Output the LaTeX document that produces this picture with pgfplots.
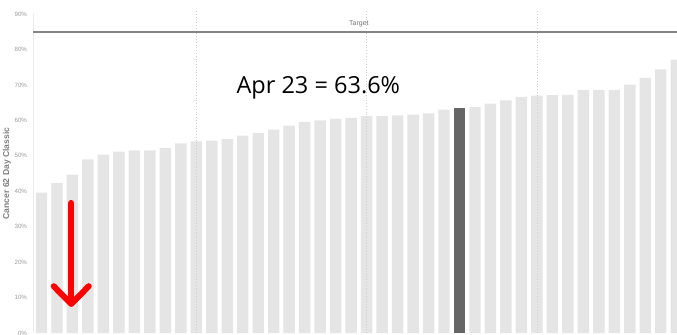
\documentclass[border=0pt]{standalone}
\usepackage{pgfplots}
\pgfplotsset{compat=1.18}
\usepackage{fontspec}
\setmainfont{Liberation Sans}
\newfontfamily\annfont{Open Sans}
\definecolor{barlight}{HTML}{E5E5E5}
\definecolor{bardark}{HTML}{666666}
\definecolor{targetgray}{HTML}{858585}
\definecolor{ticktext}{HTML}{9A9A9A}
\definecolor{gridgray}{HTML}{CFCFCF}
\definecolor{labelgray}{HTML}{7F7F7F}
\begin{document}
\begin{tikzpicture}
\begin{axis}[
  scale only axis, width=644bp, height=319bp,
  xmin=0.45, xmax=42.05, ymin=0, ymax=90,
  clip=false,
  axis x line=none,
  axis y line*=left,
  y axis line style={draw=black!8, line width=0.6bp},
  ytick={0,10,...,90},
  yticklabel={\pgfmathprintnumber{\tick}\%},
  /pgf/number format/assume math mode=true,
  major tick length=0pt,
  yticklabel style={font=\fontsize{6.2}{7}\selectfont, text=ticktext, xshift=-2.5bp},
  ylabel={Cancer 62 Day Classic},
  ylabel style={at={(axis description cs:0,0.5)}, yshift=26bp, anchor=center,
    font=\bfseries\fontsize{8.6}{9}\selectfont, text=labelgray},
]
% light bars
\addplot[ybar, bar width=0.74, bar shift=0pt, fill=barlight, draw=none] coordinates {
(1,39.6) (2,42.3) (3,44.7) (4,49.0) (5,50.3) (6,51.2) (7,51.5) (8,51.5) (9,52.2) (10,53.5)
(11,54.1) (12,54.3) (13,54.7) (14,55.7) (15,56.4) (16,57.4) (17,58.5) (18,59.6) (19,60.0) (20,60.4)
(21,60.7) (22,61.2) (23,61.2) (24,61.4) (25,61.6) (26,62.0) (27,63.0)
(29,63.8) (30,64.7) (31,65.6) (32,66.6) (33,67.0) (34,67.1) (35,67.2) (36,68.5) (37,68.6) (38,68.6)
(39,70.1) (40,72.0) (41,74.4) (42,77.1)
};
% highlighted bar
\addplot[ybar, bar width=0.74, bar shift=0pt, fill=bardark, draw=none] coordinates {(28,63.6)};
% dotted period separators
\draw[gridgray, dotted, line width=0.8bp] (axis cs:11,0) -- (axis cs:11,91.2);
\draw[gridgray, dotted, line width=0.8bp] (axis cs:22,0) -- (axis cs:22,91.2);
\draw[gridgray, dotted, line width=0.8bp] (axis cs:33,0) -- (axis cs:33,91.2);
% target
\addplot[sharp plot, no marks, targetgray, line width=1.6bp] coordinates {(0.45,85) (42.05,85)};
\node[font=\fontsize{7}{8}\selectfont, text=black!55] at (axis cs:21.5,87.3) {Target};
% annotation
\node[font=\annfont\fontsize{23.6}{28}\selectfont, anchor=base, inner sep=0pt] at (axis cs:18.88,67.7) {Apr 23 = 63.6\%};
% red arrow
\draw[red, line width=6bp, line cap=round, line join=round] (axis cs:2.92,36.7) -- (axis cs:2.92,8.4);
\draw[red, line width=6bp, line cap=round, line join=round] (axis cs:1.79,13.2) -- (axis cs:2.92,8.2) -- (axis cs:4.05,13.2);
\end{axis}
\pgfresetboundingbox
\path (-33bp,-2bp) rectangle (644bp,333bp);
\end{tikzpicture}
\end{document}
